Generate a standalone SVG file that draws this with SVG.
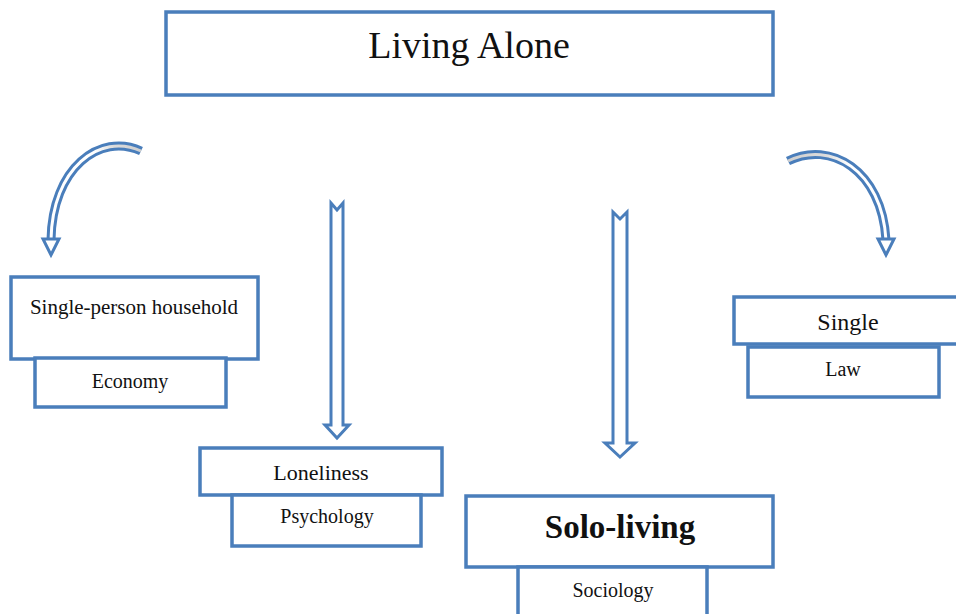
<svg xmlns="http://www.w3.org/2000/svg" width="956" height="614" viewBox="0 0 956 614">
<defs>
<linearGradient id="gl" gradientUnits="userSpaceOnUse" x1="140" y1="0" x2="95" y2="0">
<stop offset="0" stop-color="#cfcfcf"/><stop offset="0.6" stop-color="#dcdcdc"/><stop offset="1" stop-color="#ffffff"/>
</linearGradient>
<linearGradient id="gr" gradientUnits="userSpaceOnUse" x1="788" y1="0" x2="850" y2="0">
<stop offset="0" stop-color="#cfcfcf"/><stop offset="0.6" stop-color="#dcdcdc"/><stop offset="1" stop-color="#ffffff"/>
</linearGradient>
</defs>
<style>
.box{fill:#ffffff;stroke:#4a7ebb;stroke-width:3.5}
.arr{fill:#ffffff;stroke:#4a7ebb;stroke-width:3;stroke-linejoin:miter}
.cout{fill:none;stroke:#4a7ebb;stroke-width:9}
.cin{fill:none;stroke-width:3}
text{font-family:"Liberation Serif","Times New Roman",serif;fill:#111;text-anchor:middle}
</style>
<rect width="956" height="614" fill="#ffffff"/>
<g id="connectors">
<path class="cout" d="M141,151 C100,132 52,168 51,240"/>
<path class="cin" stroke="url(#gl)" d="M141,151 C100,132 52,168 51,240"/>
<path class="arr" d="M43,239 L59,239 L51,255 Z"/>
<path class="cout" d="M788,161 C830,140 882,170 886,240"/>
<path class="cin" stroke="url(#gr)" d="M788,161 C830,140 882,170 886,240"/>
<path class="arr" d="M878,239 L894,239 L886,255 Z"/>
<path class="arr" d="M331,203 L337,210 L343,203 L343,425 L349,425 L337,438 L325,425 L331,425 Z"/>
<path class="arr" d="M613,212 L620,219 L627,212 L627,443 L635,443 L620,457 L605,443 L613,443 Z"/>
</g>
<g id="living-alone">
<rect class="box" x="166" y="12" width="607" height="83"/>
<text x="469" y="58" font-size="38">Living Alone</text>
</g>
<g id="single-person-household">
<rect class="box" x="11" y="277" width="247" height="82"/>
<text x="134" y="314" font-size="21">Single-person household</text>
</g>
<g id="economy">
<rect class="box" x="35" y="358" width="191" height="49"/>
<text x="130" y="388" font-size="20">Economy</text>
</g>
<g id="single">
<rect class="box" x="734" y="297" width="230" height="47"/>
<text x="848" y="330" font-size="24">Single</text>
</g>
<g id="law">
<rect class="box" x="748" y="347" width="191" height="50"/>
<text x="843" y="376" font-size="20">Law</text>
</g>
<g id="loneliness">
<rect class="box" x="200" y="448" width="242" height="47"/>
<text x="321" y="480" font-size="22">Loneliness</text>
</g>
<g id="psychology">
<rect class="box" x="232" y="495" width="189" height="51"/>
<text x="327" y="523" font-size="20">Psychology</text>
</g>
<g id="solo-living">
<rect class="box" x="466" y="496" width="307" height="71"/>
<text x="620" y="538" font-size="33" font-weight="bold">Solo-living</text>
</g>
<g id="sociology">
<rect class="box" x="518" y="567" width="189" height="60"/>
<text x="613" y="597" font-size="20">Sociology</text>
</g>
</svg>
